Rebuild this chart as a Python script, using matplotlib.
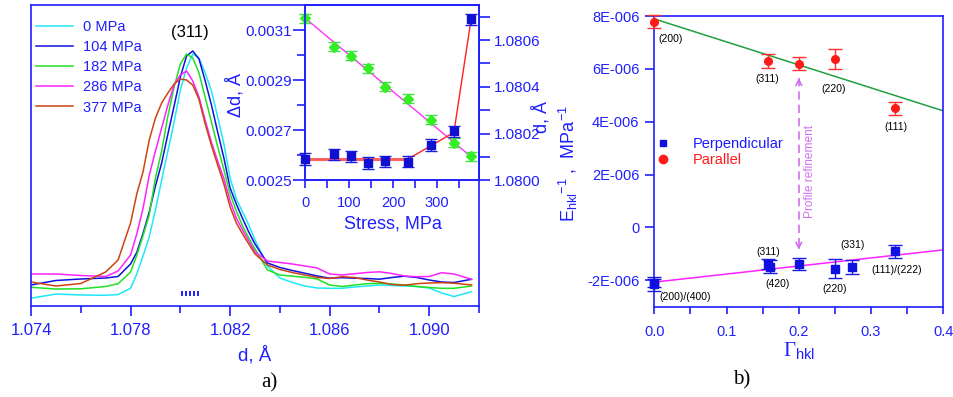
import numpy as np
import matplotlib.pyplot as plt
from matplotlib.ticker import MultipleLocator, FuncFormatter, FormatStrFormatter

plt.rcParams['font.family'] = ['Liberation Sans', 'DejaVu Sans']
plt.rcParams['mathtext.fontset'] = 'custom'
plt.rcParams['mathtext.rm'] = 'Liberation Serif'
plt.rcParams['mathtext.sf'] = 'Liberation Sans'
plt.rcParams['mathtext.it'] = 'Liberation Sans:italic'

W, H = 954, 397
BLUE = '#1f1fff'
VIOLET = '#d070f0'

# ---- a) (311) peak profiles, intensity in arbitrary units ----
d_grid = [1.0740, 1.0750, 1.0760, 1.0770, 1.0775, 1.0780, 1.07825, 1.0785, 1.07875, 1.0790,
          1.07925, 1.0795, 1.07975, 1.0800, 1.08025, 1.0805, 1.08075, 1.0810, 1.08125, 1.0815,
          1.08175, 1.0820, 1.08225, 1.0825, 1.08275, 1.0830, 1.0835, 1.0840, 1.0845, 1.0850,
          1.0855, 1.0860, 1.0865, 1.0870, 1.0875, 1.0880, 1.0885, 1.0890, 1.0895, 1.0900,
          1.0905, 1.0910, 1.0917]
prof_0 = [7.7, 12, 11, 10.7, 11.5, 17.7, 32, 50, 69, 96, 126, 155, 184, 216, 238, 252, 248, 233,
          215, 189, 162, 128, 107, 94, 81, 66, 40, 28, 23.5, 20, 18, 17.7, 17.7, 19, 20, 21, 20.5,
          20, 19.5, 18, 13, 9.5, 14.3]
prof_104 = [21, 25.5, 27, 28, 29.5, 42, 53.6, 72.5, 94, 120, 143, 172, 200, 229, 250, 255, 247,
            225, 201, 174, 148, 118, 102, 87.5, 74, 62, 43, 38.5, 35.5, 32.8, 30, 27.8, 28.3,
            27.8, 27.5, 26.8, 28.5, 29.8, 28.5, 26, 24, 23.5, 26.7]
prof_182 = [18.7, 17, 17.2, 19.5, 22.3, 34, 50.8, 70.3, 91, 128, 155, 190, 219, 242, 252, 248,
            233, 208.5, 184, 159.3, 136.4, 112, 95, 80, 68, 57, 36, 31, 29.8, 28.7, 27, 21, 19.5,
            21, 22.3, 22.7, 22, 21, 19.5, 18.5, 17.7, 17.7, 20]
prof_286 = [32, 32, 30.5, 29.5, 35, 51, 72, 97.5, 130.6, 155, 178, 201, 221, 231, 235, 225, 209,
            185.7, 163.6, 145, 127.4, 105, 88, 76, 65, 54, 45, 43.5, 42, 40, 38, 32, 31, 32.3,
            33.5, 34.2, 32.5, 30, 29.3, 29.5, 33.3, 32, 26.7]
prof_377 = [24, 20, 22.5, 34, 46, 83, 112, 134, 166, 188, 203, 213, 222, 227, 226, 221, 206.5,
            182, 160.5, 141, 122, 99, 83, 72, 62, 52, 41, 36.5, 33.5, 31, 28.5, 27.5, 29.3, 28.5,
            26, 24, 21.5, 20.8, 22.3, 23, 23.3, 22.8, 21]
prof_labels = ['0 MPa', '104 MPa', '182 MPa', '286 MPa', '377 MPa']
prof_colors = ['#1ee8f8', '#1010e0', '#22e022', '#ff22ff', '#cc4411']
peak_marks = [1.08008, 1.08024, 1.0804, 1.08056, 1.08072]
d_ticks = [1.074, 1.078, 1.082, 1.086, 1.090]
d_minor = [1.076, 1.080, 1.084, 1.088, 1.092]

# ---- inset: peak width and position vs stress ----
stress = [0, 66, 104, 142, 182, 234, 286, 338, 377]
delta_d = [0.003148, 0.003034, 0.002998, 0.002948, 0.002874, 0.002825, 0.002741, 0.002650, 0.002597]
delta_d_err = [0.000018] * 9
d_pos = [1.080091, 1.080111, 1.080102, 1.080074, 1.080081, 1.080079, 1.080151, 1.080209, 1.080688]
d_pos_err = [0.000024] * 9
dd_fit_stress = [0, 377]
dd_fit = [0.003148, 0.002594]
dpos_line_stress = [0, 234, 338, 377]
dpos_line = [1.080091, 1.080091, 1.080205, 1.080688]
dd_ticks = [0.0025, 0.0027, 0.0029, 0.0031]
dd_minor = [0.0026, 0.0028, 0.0030]

# ---- b) inverse elastic modulus vs orientation factor ----
gamma_par = [0.0, 0.157, 0.200, 0.250, 0.333]
e_par = [7.78e-6, 6.30e-6, 6.20e-6, 6.39e-6, 4.50e-6]
e_par_err = [0.25e-6, 0.27e-6, 0.24e-6, 0.38e-6, 0.25e-6]
gamma_perp = [0.0, 0.0, 0.157, 0.160, 0.200, 0.250, 0.274, 0.333]
e_perp = [-2.14e-6, -2.10e-6, -1.38e-6, -1.48e-6, -1.39e-6, -1.56e-6, -1.50e-6, -0.91e-6]
e_perp_err = [0.28e-6, 0.14e-6, 0.19e-6, 0.24e-6, 0.22e-6, 0.36e-6, 0.25e-6, 0.25e-6]
fit_gamma = [0.0, 0.4]
fit_par = [7.89e-6, 4.41e-6]
fit_perp = [-2.07e-6, -0.85e-6]

par_tags = ['(200)', '(311)', '(220)', '(111)']
par_tag_xy = [(0.022, 7.13e-6), (0.156, 5.61e-6), (0.2485, 5.22e-6), (0.335, 3.80e-6)]
perp_tags = ['(311)', '(331)', '(420)', '(220)', '(111)/(222)', '(200)/(400)']
perp_tag_xy = [(0.158, -0.93e-6), (0.275, -0.68e-6), (0.171, -2.14e-6), (0.249, -2.34e-6),
               (0.335, -1.60e-6), (0.0425, -2.64e-6)]


def fx(px):
    return px / W


def fy(py):
    return 1 - py / H


def style_spines(ax):
    for s in ax.spines.values():
        s.set_color(BLUE)
        s.set_linewidth(1.2)


fig = plt.figure(figsize=(W / 100, H / 100), dpi=100)

# ---------- panel a ----------
ax_a = fig.add_axes([fx(31), fy(306), (479 - 31) / W, 301 / H])
lines = []
for prof, lab, col in zip([prof_0, prof_104, prof_182, prof_286, prof_377], prof_labels, prof_colors):
    ln, = ax_a.plot(d_grid, prof, color=col, lw=1.1, label=lab)
    lines.append(ln)
ax_a.vlines(peak_marks, 10, 15, color=BLUE, lw=1.4)
ax_a.set_xlim(1.074, 1.092)
ax_a.set_ylim(0, 301)
ax_a.set_yticks([])
ax_a.set_xticks(d_ticks)
ax_a.set_xticks(d_minor, minor=True)
ax_a.xaxis.set_major_formatter(FormatStrFormatter('%.3f'))
ax_a.tick_params(axis='x', which='major', direction='out', length=7, width=1.2, color=BLUE,
                 labelcolor=BLUE, labelsize=12, pad=5)
ax_a.tick_params(axis='x', which='minor', direction='out', length=5, width=1.2, color=BLUE)
style_spines(ax_a)
leg = ax_a.legend(handles=lines, loc='upper left', bbox_to_anchor=(0.012, 0.95), frameon=False,
                  fontsize=10.5, handlelength=2.5, handletextpad=0.7, labelspacing=0.42,
                  borderpad=0, borderaxespad=0)
for t in leg.get_texts():
    t.set_color(BLUE)

# ---------- inset ----------
ax_in = fig.add_axes([fx(305), fy(180.3), (479 - 305) / W, (180.3 - 5) / H])
ax_in.set_facecolor('white')
ax_in.plot(dd_fit_stress, dd_fit, color='#ff33ff', lw=1.0, zorder=2)
ax_in.errorbar(stress, delta_d, yerr=delta_d_err, fmt='D', ms=5, color='#33ee22', ecolor='#44dd44',
               elinewidth=1.0, capsize=4, capthick=1.0, zorder=3, clip_on=False)
ax_in.set_xlim(0, 395)
ax_in.set_ylim(0.0025, 0.0032)
ax_in.xaxis.set_major_locator(MultipleLocator(100))
ax_in.xaxis.set_minor_locator(MultipleLocator(50))
ax_in.set_yticks(dd_ticks)
ax_in.set_yticks(dd_minor, minor=True)
ax_in.yaxis.set_major_formatter(FormatStrFormatter('%.4f'))
ax_in.tick_params(axis='x', which='both', direction='out', length=6, width=1.2, color=BLUE,
                  labelcolor=BLUE, labelsize=10.5, pad=5)
ax_in.tick_params(axis='y', which='major', direction='out', length=8.4, width=1.2, color=BLUE,
                  labelcolor=BLUE, labelsize=11, pad=1)
ax_in.tick_params(axis='y', which='minor', direction='out', length=5.5, width=1.2, color=BLUE)
style_spines(ax_in)

ax_in2 = ax_in.twinx()
ax_in2.plot(dpos_line_stress[:2], dpos_line[:2], color='#ff6060', lw=2.2, zorder=2)
ax_in2.plot(dpos_line_stress[1:], dpos_line[1:], color='#ff2020', lw=1.0, zorder=2)
ax_in2.errorbar(stress, d_pos, yerr=d_pos_err, fmt='s', ms=5.5, color='#1010d0', ecolor='#1a1ae0',
                elinewidth=1.0, capsize=4, capthick=1.0, zorder=3, clip_on=False)
ax_in2.set_ylim(1.0800, 1.08075)
ax_in2.yaxis.set_major_locator(MultipleLocator(0.0002))
ax_in2.yaxis.set_minor_locator(MultipleLocator(0.0001))
ax_in2.yaxis.set_major_formatter(FormatStrFormatter('%.4f'))
ax_in2.tick_params(axis='y', which='both', direction='out', length=7.7, width=1.2, color=BLUE,
                   labelcolor=BLUE, labelsize=11, pad=3)
style_spines(ax_in2)

# ---------- panel b ----------
ax_b = fig.add_axes([fx(654.3), fy(306.7), 289 / W, 290.7 / H])
ax_b.plot(fit_gamma, fit_par, color='#22a040', lw=1.1, zorder=2)
ax_b.plot(fit_gamma, fit_perp, color='#ff22ff', lw=1.1, zorder=2)
ax_b.errorbar(gamma_par, e_par, yerr=e_par_err, fmt='o', ms=5.5, color='#ff1a1a', ecolor='#ff3030',
              elinewidth=1.0, capsize=5, capthick=1.0, zorder=3, clip_on=False)
ax_b.errorbar(gamma_perp, e_perp, yerr=e_perp_err, fmt='s', ms=5.5, color='#1010e0', ecolor='#1a1ae0',
              elinewidth=1.0, capsize=5, capthick=1.0, zorder=3, clip_on=False)
ax_b.set_xlim(0, 0.4)
ax_b.set_ylim(-3e-6, 8e-6)
ax_b.xaxis.set_major_locator(MultipleLocator(0.1))
ax_b.xaxis.set_minor_locator(MultipleLocator(0.05))
ax_b.xaxis.set_major_formatter(FormatStrFormatter('%.1f'))
ax_b.set_yticks([-2e-6, 0, 2e-6, 4e-6, 6e-6, 8e-6])
ax_b.yaxis.set_major_formatter(FuncFormatter(
    lambda v, _: '0' if abs(v) < 1e-9 else '%dE-006' % int(round(v * 1e6))))
ax_b.tick_params(axis='x', which='both', direction='out', length=5, width=1.2, color=BLUE,
                 labelcolor=BLUE, labelsize=10.5, pad=8)
ax_b.tick_params(axis='y', direction='out', length=6.7, width=1.2, color=BLUE,
                 labelcolor=BLUE, labelsize=10.5, pad=4)
style_spines(ax_b)

for tag, (gx, gy) in zip(par_tags, par_tag_xy):
    ax_b.text(gx, gy, tag, fontsize=7.5, ha='center', va='center', color='black')
for tag, (gx, gy) in zip(perp_tags, perp_tag_xy):
    ax_b.text(gx, gy, tag, fontsize=7.5, ha='center', va='center', color='black')

# legend with marker-only handles
h_perp, = ax_b.plot([], [], 's', ms=5, color='#1010e0', label='Perpendicular')
h_par, = ax_b.plot([], [], 'o', ms=6, color='#ff1a1a', label='Parallel')
leg_b = ax_b.legend(handles=[h_perp, h_par], loc='upper left', bbox_to_anchor=(0.006, 0.585),
                    frameon=False, fontsize=10.5, handlelength=1.0, handletextpad=1.5,
                    labelspacing=0.15, borderpad=0, borderaxespad=0)
for t, c in zip(leg_b.get_texts(), ['#1a1aff', '#ff1a1a']):
    t.set_color(c)

# profile refinement arrow
ax_b.plot([0.2, 0.2], [5.66e-6, -0.85e-6], color=VIOLET, lw=1.2, ls=(0, (5, 3)), zorder=1)
ax_b.annotate('', xy=(0.2, -0.95e-6), xytext=(0.2, -0.6e-6),
              arrowprops=dict(arrowstyle='->', color=VIOLET, lw=1.2))
ax_b.annotate('', xy=(0.2, 5.76e-6), xytext=(0.2, 5.4e-6),
              arrowprops=dict(arrowstyle='->', color=VIOLET, lw=1.2))

# ---------- free text ----------
fig.text(fx(190), fy(32), '(311)', fontsize=12, ha='center', va='center', color='black')
fig.text(fx(255), fy(355), 'd, Å', fontsize=13.5, ha='center', va='center', color=BLUE)
fig.text(fx(392.7), fy(224), 'Stress, MPa', fontsize=13, ha='center', va='center', color=BLUE)
fig.text(fx(235), fy(95), 'Δd, Å', fontsize=13, ha='center', va='center', color=BLUE, rotation=90)
fig.text(fx(541.7), fy(117), 'd, Å', fontsize=13, ha='center', va='center', color=BLUE, rotation=90)
fig.text(fx(568), fy(164), r'E$_{\mathsf{hkl}}$$^{\mathsf{-1}}$ ,  MPa$^{\mathsf{-1}}$',
         fontsize=13, ha='center', va='center', color=BLUE, rotation=90)
fig.text(fx(799), fy(351), r'$\Gamma_{\mathsf{hkl}}$', fontsize=15, ha='center', va='center', color=BLUE)
fig.text(fx(810), fy(171.5), 'Profile refinement', fontsize=8.6, ha='center', va='center',
         color=VIOLET, rotation=90)
fig.text(fx(269), fy(382.7), 'a)', fontsize=15, ha='center', va='center', family='Liberation Serif')
fig.text(fx(741.7), fy(380), 'b)', fontsize=15, ha='center', va='center', family='Liberation Serif')

fig.savefig('out.png', dpi=100)
